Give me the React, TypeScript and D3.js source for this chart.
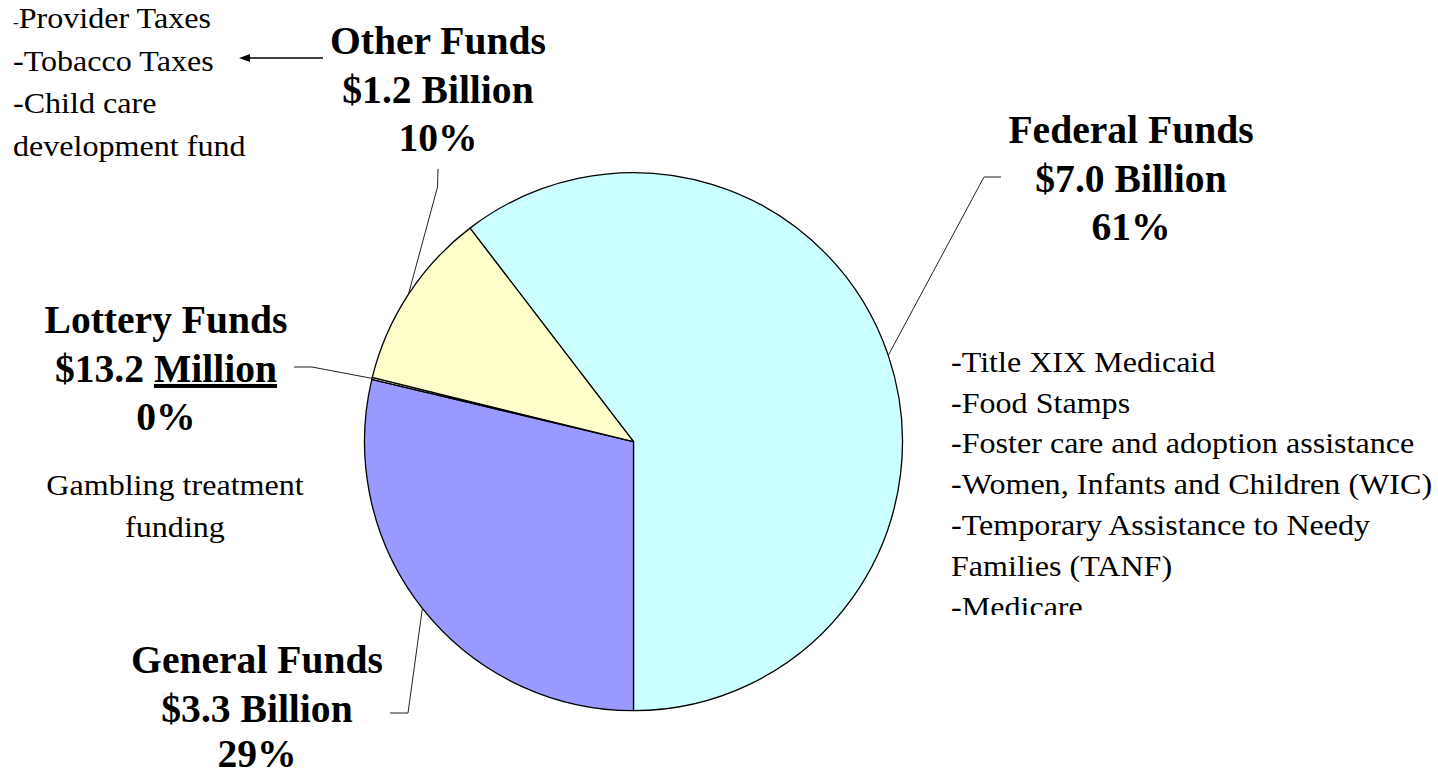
// ─── FundingPie ───────────────────────────────────────────────────────────────
//
// Pie of funding sources with callout labels and leader lines.
// D3 computes the arcs and leader anchors; React owns the SVG host.

import { useRef, useEffect } from "react";
import * as d3 from "d3";

const WIDTH = 1438;
const HEIGHT = 775;

// ── Data ──────────────────────────────────────────────────────────────────────

const sources = ["Federal Funds", "General Funds", "Lottery Funds", "Other Funds"];
// billions (lottery $13.2 million)
const amounts = [6.96, 3.31, 0.0132, 1.24];
const amountLabels = ["$7.0 Billion", "$3.3 Billion", "$13.2 ", "$1.2 Billion"];
const percentLabels = ["61%", "29%", "0%", "10%"];
const colors = ["#CCFFFF", "#9999FF", "#FFFFCC", "#FFFFCC"];

const federalItems = [
  "-Title XIX Medicaid",
  "-Food Stamps",
  "-Foster care and adoption assistance",
  "-Women, Infants and Children (WIC)",
  "-Temporary Assistance to Needy",
  "Families (TANF)",
  "-Medicare",
];
const otherItems = ["Provider Taxes", "-Tobacco Taxes", "-Child care", "development fund"];
const lotteryItems = ["Gambling  treatment", "funding"];

const FONT = "'Liberation Serif', 'Times New Roman', serif";

export default function App() {
  const svgRef = useRef<SVGSVGElement>(null);

  useEffect(() => {
    if (!svgRef.current) return;
    const svg = d3.select(svgRef.current);
    svg.selectAll("*").remove();

    const cx = 633.5;
    const cy = 441.7;
    const r = 269;

    const total = d3.sum(amounts);
    // Federal slice ends straight down at 6 o'clock
    const start = Math.PI - (amounts[0] / total) * 2 * Math.PI;

    const pie = d3
      .pie<number>()
      .sort(null)
      .value((d) => d)
      .startAngle(start)
      .endAngle(start + 2 * Math.PI);
    const arcs = pie(amounts);

    const arc = d3.arc<d3.PieArcDatum<number>>().innerRadius(0).outerRadius(r);
    const edge = d3.arc<d3.PieArcDatum<number>>().innerRadius(r).outerRadius(r);

    const g = svg.append("g").attr("transform", `translate(${cx},${cy})`);

    g.selectAll(".slice")
      .data(arcs)
      .enter()
      .append("path")
      .attr("class", "slice")
      .attr("d", arc)
      .attr("fill", (_, i) => colors[i])
      .attr("stroke", "#000")
      .attr("stroke-width", 1.3)
      .attr("stroke-linejoin", "round");

    // ── Callout labels ───────────────────────────────────────────────────────

    const labels = [
      { x: 1131, y: 143, elbow: [984, 177], stub: 1001 },
      { x: 257, y: 673, elbow: [408, 713], stub: 390 },
      { x: 166, y: 333, elbow: [312, 367], stub: 294 },
      { x: 438, y: 54, elbow: [437.5, 187], stub: 169 },
    ];
    const lineGap = 49;

    const bold = svg
      .append("g")
      .attr("font-family", FONT)
      .attr("font-weight", "bold")
      .attr("font-size", 39.6)
      .attr("text-anchor", "middle")
      .attr("fill", "#000");

    labels.forEach((l, i) => {
      bold.append("text").attr("x", l.x).attr("y", l.y).text(sources[i]);
      const t = bold.append("text").attr("x", l.x).attr("y", l.y + lineGap).text(amountLabels[i]);
      if (i === 2) {
        t.append("tspan").attr("text-decoration", "underline").text("Million");
      }
      bold
        .append("text")
        .attr("x", l.x)
        .attr("y", Math.min(l.y + lineGap * 2 - 1, 767))
        .text(percentLabels[i]);

      // leader line: slice mid-angle on the rim -> elbow -> stub
      const [ex, ey] = edge.centroid(arcs[i]);
      const pts: [number, number][] = [[cx + ex, cy + ey], [l.elbow[0], l.elbow[1]]];
      if (i === 3) pts.push([l.elbow[0] + 0.5, l.stub]);
      else pts.push([l.stub, l.elbow[1]]);
      svg
        .append("path")
        .attr("d", d3.line()(pts))
        .attr("fill", "none")
        .attr("stroke", "#222")
        .attr("stroke-width", 1);
    });

    // ── Detail lists ─────────────────────────────────────────────────────────

    const plain = (x: number, anchor: string) =>
      svg
        .append("g")
        .attr("transform", `translate(${x},0) scale(1.07,1)`)
        .attr("font-family", FONT)
        .attr("font-size", 30)
        .attr("text-anchor", anchor)
        .attr("fill", "#000");

    // federal programs, clipped at the bottom like the source text box
    svg
      .append("clipPath")
      .attr("id", "fedClip")
      .append("rect")
      .attr("x", 0)
      .attr("y", 330)
      .attr("width", 600)
      .attr("height", 285);
    const fed = plain(951, "start").attr("clip-path", "url(#fedClip)");
    federalItems.forEach((s, i) => {
      fed.append("text").attr("x", 0).attr("y", 371.7 + i * 40.9).text(s);
    });

    const other = plain(13, "start");
    otherItems.forEach((s, i) => {
      const t = other.append("text").attr("x", 0).attr("y", 28.5 + i * 42.5);
      if (i === 0) {
        t.append("tspan").attr("font-size", 16).text("-");
        t.append("tspan").text(s);
      } else t.text(s);
    });

    const lot = plain(175, "middle").style("white-space", "pre");
    lotteryItems.forEach((s, i) => {
      lot.append("text").attr("x", 0).attr("y", 495 + i * 41.7).text(s);
    });

    // ── Arrow: Other Funds -> its list ──────────────────────────────────────

    svg
      .append("line")
      .attr("x1", 323)
      .attr("y1", 58)
      .attr("x2", 246)
      .attr("y2", 58)
      .attr("stroke", "#000")
      .attr("stroke-width", 1.5);
    svg
      .append("path")
      .attr("d", d3.line()([[239, 58], [250, 54], [250, 62]]) + "Z")
      .attr("fill", "#000");
  }, []);

  return (
    <div style={{ position: "absolute", left: 0, top: 0, width: WIDTH, height: HEIGHT, background: "#fff" }}>
      <svg ref={svgRef} width={WIDTH} height={HEIGHT} style={{ display: "block" }} />
    </div>
  );
}
